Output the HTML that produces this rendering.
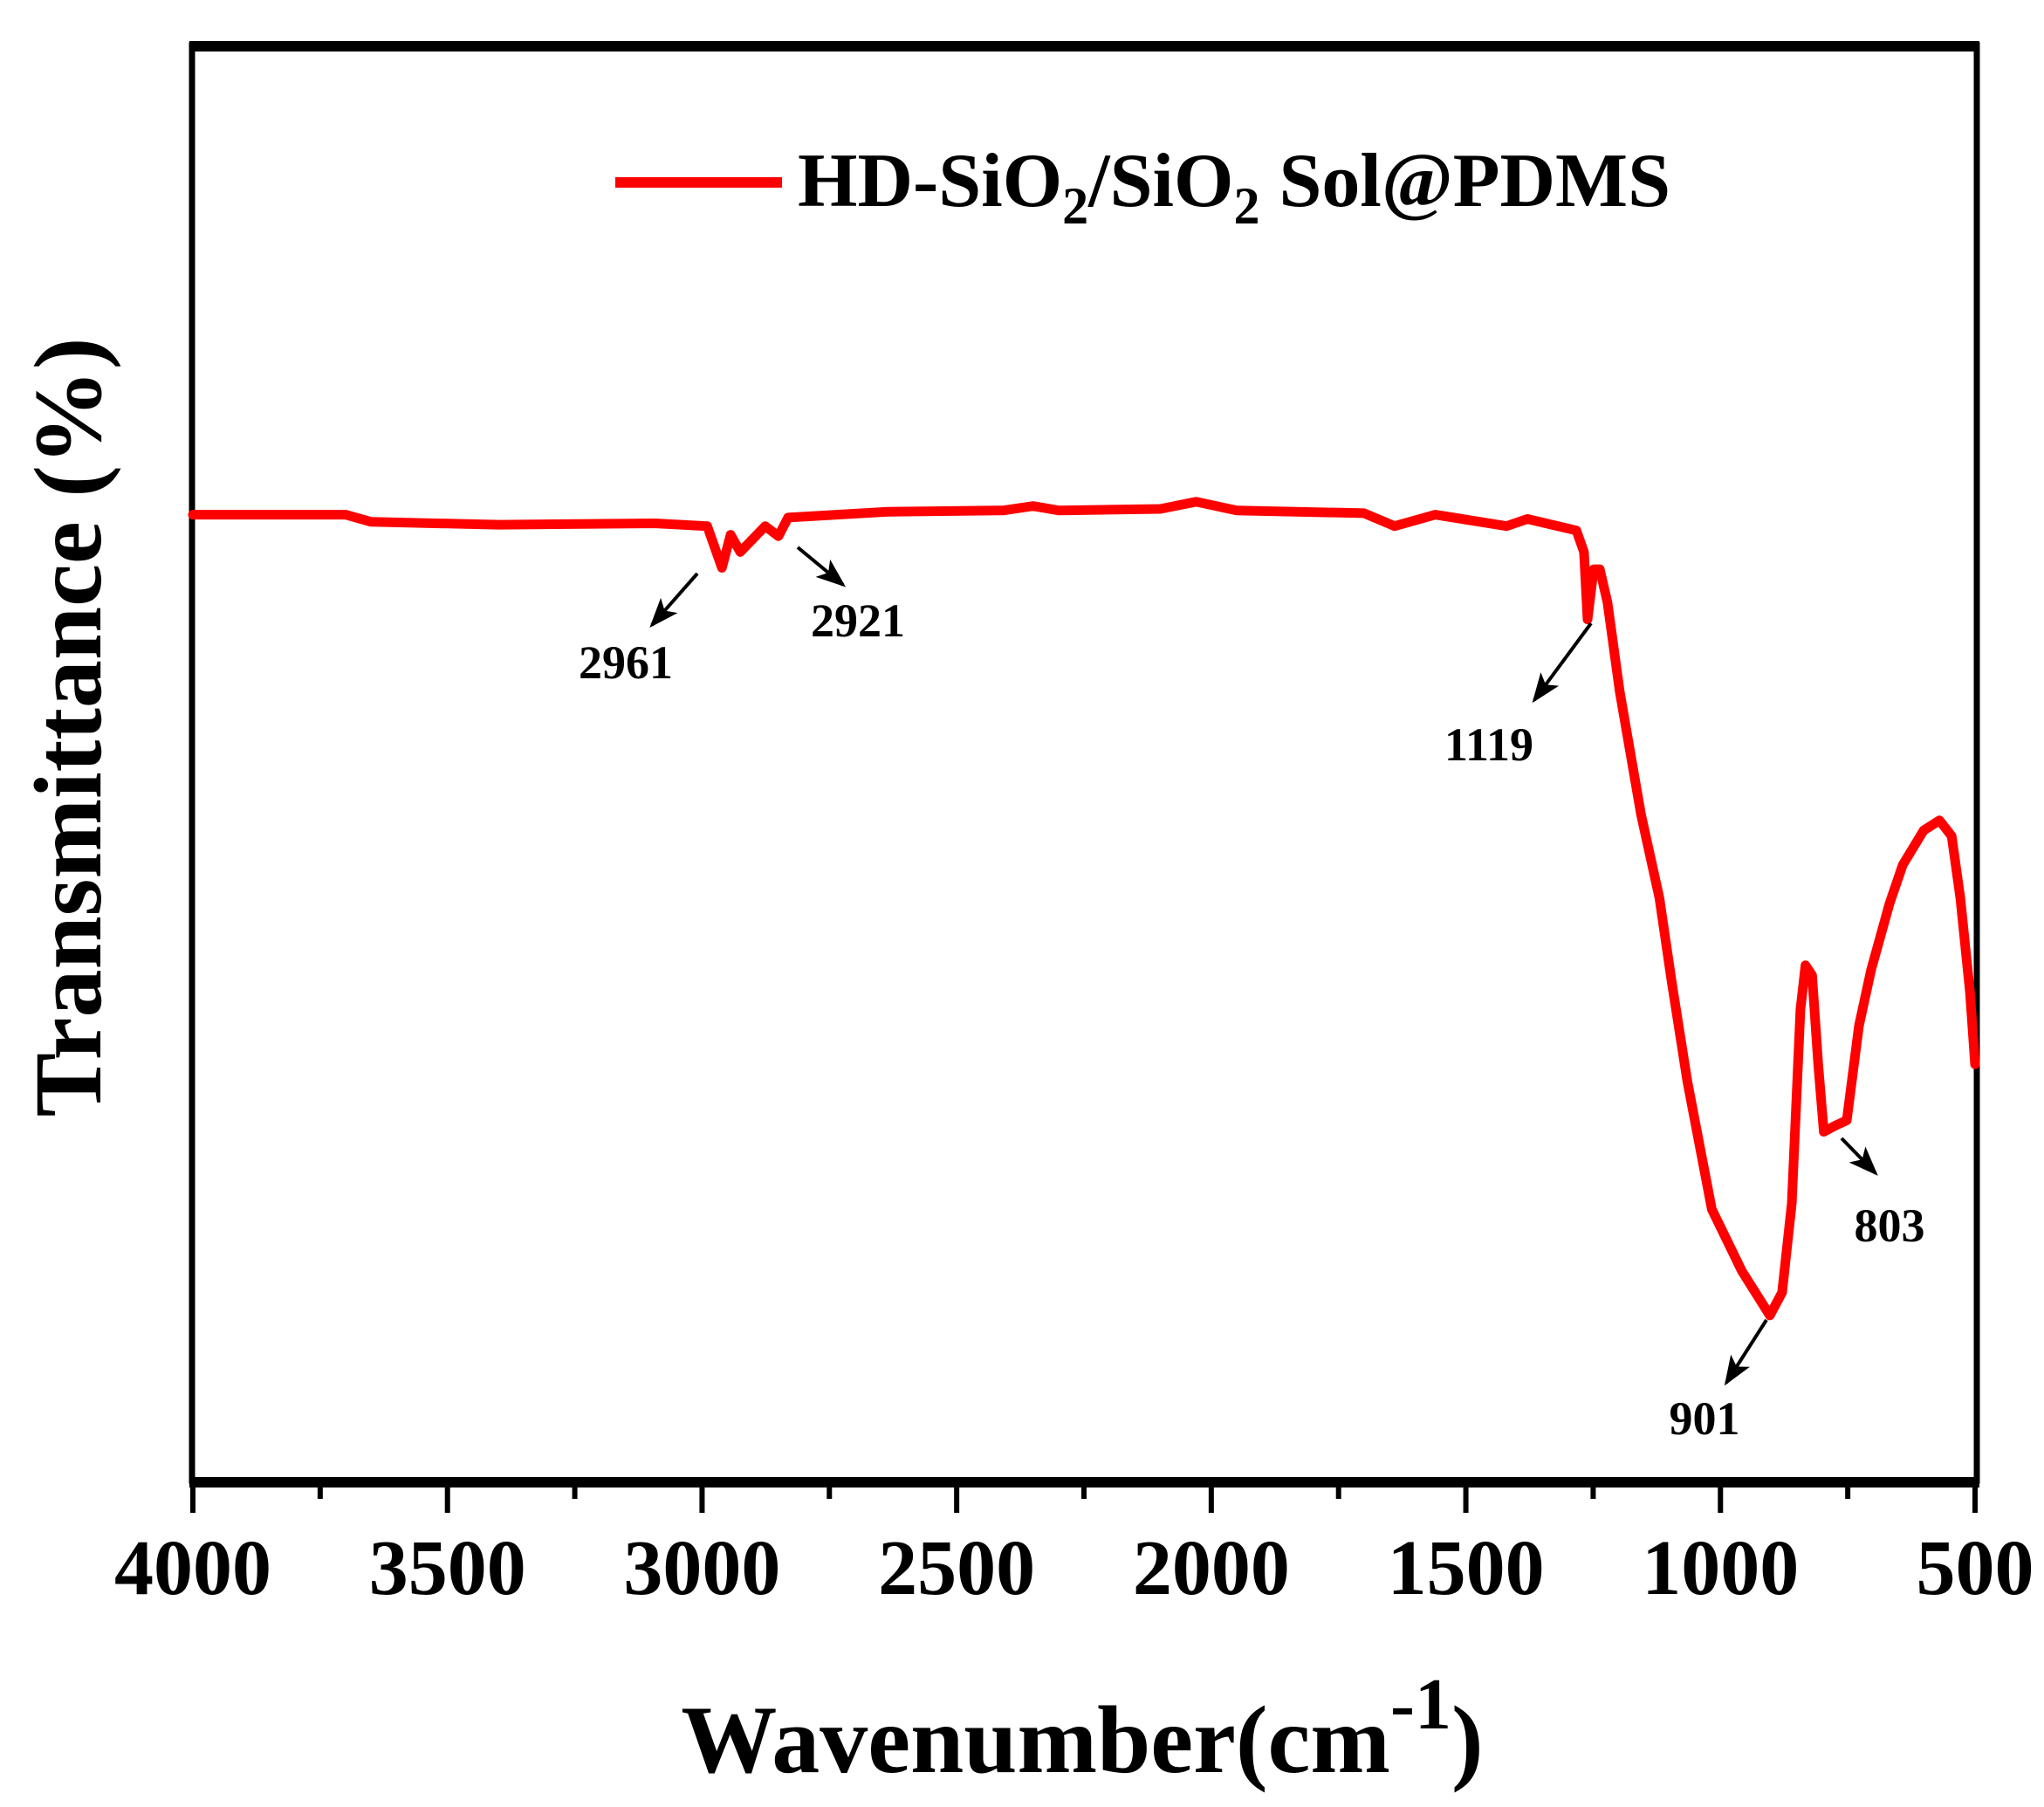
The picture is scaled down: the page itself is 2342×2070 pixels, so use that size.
<!DOCTYPE html>
<html><head><meta charset="utf-8">
<style>
html,body{margin:0;padding:0;background:#fff;}
svg{display:block;font-family:"Liberation Serif",serif;font-weight:bold;}
</style></head>
<body>
<svg id="chart" width="2342" height="2070" viewBox="0 0 2342 2070" xmlns="http://www.w3.org/2000/svg">
<defs>
<marker id="ah" markerWidth="34" markerHeight="26" refX="30" refY="13" orient="auto" markerUnits="userSpaceOnUse">
<path d="M0,0 L34,13 L0,26 L8,13 Z" fill="#000"/>
</marker>
</defs>
<g id="axes"></g>
<g id="series"></g>
<g id="annots"></g>
<g>
<line x1="705" y1="209" x2="896" y2="209" stroke="#ff0000" stroke-width="12"/>
<text x="914" y="236" font-size="88">HD-SiO<tspan font-size="60" dy="20">2</tspan><tspan dy="-20">/SiO</tspan><tspan font-size="60" dy="20">2</tspan><tspan dy="-20"> Sol@PDMS</tspan></text>
</g>
<text x="1240" y="2030" font-size="110" text-anchor="middle">Wavenumber(cm<tspan font-size="84" dy="-50">-1</tspan><tspan dy="50">)</tspan></text>
<text transform="translate(115,833) rotate(-90)" font-size="110" text-anchor="middle">Transmittance (%)</text>
</svg>
<script>
const xTicks = [4000,3500,3000,2500,2000,1500,1000,500];
const xTickLabels = ["4000","3500","3000","2500","2000","1500","1000","500"];
const wavenumbers = [4000,3700,3650,3400,3093,2990,2961,2944,2925,2876,2850,2831,2636,2408,2350,2300,2100,2030,1950,1700,1640,1560,1420,1379,1283,1268,1261,1249,1237,1222,1198,1156,1120,1096,1065,1017,958,903,879,860,843,833,820,808,797,776,752,728,704,668,642,601,570,546,529,510,500];
const transmittance = [67.3,67.3,66.8,66.6,66.7,66.5,63.6,65.9,64.7,66.5,65.8,67.1,67.5,67.6,67.9,67.6,67.7,68.2,67.6,67.4,66.5,67.3,66.5,67.0,66.2,64.7,60.0,63.5,63.5,61.2,55.0,46.4,40.6,34.8,27.8,18.9,14.6,11.5,13.1,19.3,32.8,35.9,35.2,29.0,24.3,24.7,25.1,31.7,35.6,40.2,42.9,45.3,46.0,44.9,40.6,34.0,29.0];
const peakLabels = ["2961","2921","1119","901","803"];
const peakLabelPos = [[717,777],[983,729],[1706,871],[1953,1643],[2165,1422]];
const peakArrows = [[799,657,747,716],[914,627,966,670],[1823,714,1758,802],[2024,1512,1978,1584],[2110,1304,2149,1344]];

const L=221,R=2263,T=52,B=1696;
const xs = w => L + (4000-w)/3500*(R-L);
const ys = v => B - v/100*(B-T);
const NS="http://www.w3.org/2000/svg";
function mk(tag, attrs, parent){const e=document.createElementNS(NS,tag);for(const k in attrs)e.setAttribute(k,attrs[k]);parent.appendChild(e);return e;}

const axes=document.getElementById('axes');
let f=mk('rect',{x:L-1,y:T,width:R-L+3,height:B-T,fill:'none',stroke:'#000','stroke-width':7},axes);


let tb=mk('line',{x1:L-4,y1:53,x2:R+5,y2:53,stroke:'#000','stroke-width':12},axes);


let bb=mk('line',{x1:L-4,y1:1698,x2:R+5,y2:1698,stroke:'#000','stroke-width':12},axes);


for(let w=4000; w>=500; w-=250){
  const major = (w%500===0);
  let t=mk('line',{x1:xs(w),y1:1700,x2:xs(w),y2:major?1733:1717,stroke:'#000','stroke-width':6},axes);
  
  
}
xTicks.forEach((w,i)=>{
  let t=mk('text',{x:xs(w),y:1826,'font-size':90,'text-anchor':'middle'},axes);
  t.textContent=xTickLabels[i];
  
  
});

const series=document.getElementById('series');
let d=wavenumbers.map((w,i)=>(i?'L':'M')+xs(w).toFixed(1)+','+ys(transmittance[i]).toFixed(1)).join(' ');
let p=mk('path',{d:d,fill:'none',stroke:'#ff0000','stroke-width':11,'stroke-linejoin':'round','stroke-linecap':'round'},series);



const an=document.getElementById('annots');
peakLabels.forEach((s,i)=>{
  const a=peakArrows[i];
  let l=mk('line',{x1:a[0],y1:a[1],x2:a[2],y2:a[3],stroke:'#000','stroke-width':4,'marker-end':'url(#ah)'},an);
  
  
  let t=mk('text',{x:peakLabelPos[i][0],y:peakLabelPos[i][1],'font-size':54,'text-anchor':'middle'},an);
  t.textContent=s;
  
  
});
</script>
</body></html>
